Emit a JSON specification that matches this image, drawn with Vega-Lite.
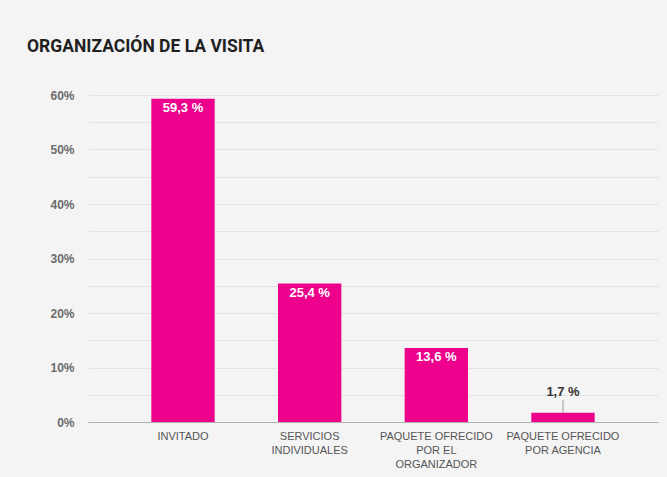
{
  "$schema": "https://vega.github.io/schema/vega-lite/v6.json",
  "width": 570,
  "height": 327,
  "autosize": {"type": "none"},
  "padding": {"left": 88, "top": 95, "right": 9, "bottom": 55},
  "background": "#f4f4f4",
  "config": {"view": {"stroke": null}},
  "title": {
    "text": "ORGANIZACIÓN DE LA VISITA",
    "anchor": "start",
    "frame": "group",
    "dx": -61,
    "offset": 34,
    "font": "Roboto",
    "fontSize": 17.5,
    "fontWeight": "bold",
    "color": "#1f1f1f"
  },
  "data": {
    "values": [
      {"categoria": "INVITADO", "porcentaje": 59.3},
      {"categoria": "SERVICIOS\nINDIVIDUALES", "porcentaje": 25.4},
      {"categoria": "PAQUETE OFRECIDO\nPOR EL\nORGANIZADOR", "porcentaje": 13.6},
      {"categoria": "PAQUETE OFRECIDO\nPOR AGENCIA", "porcentaje": 1.7}
    ]
  },
  "encoding": {
    "x": {
      "field": "categoria",
      "type": "nominal",
      "sort": null,
      "scale": {"paddingInner": 0.5, "paddingOuter": 0.5},
      "axis": {
        "title": null,
        "labelAngle": 0,
        "labelExpr": "split(datum.label, '\\n')",
        "labelFont": "Liberation Sans",
        "labelFontSize": 11,
        "labelColor": "#555555",
        "labelLineHeight": 14,
        "labelBaseline": "top",
        "ticks": false,
        "tickSize": 0,
        "labelPadding": 8,
        "domainColor": "#b0b0b0",
        "domainWidth": 1,
        "grid": false
      }
    },
    "y": {
      "field": "porcentaje",
      "type": "quantitative",
      "scale": {"domain": [0, 60], "nice": false},
      "axis": {
        "title": null,
        "values": [0, 5, 10, 15, 20, 25, 30, 35, 40, 45, 50, 55, 60],
        "labelExpr": "datum.value % 10 === 0 ? datum.value + '%' : ''",
        "ticks": false,
        "tickSize": 0,
        "domain": false,
        "labelPadding": 14,
        "labelFont": "Liberation Sans",
        "labelFontSize": 12,
        "labelFontWeight": "bold",
        "labelColor": "#6b6b6b",
        "gridColor": "#e2e2e2",
        "gridWidth": 1
      }
    }
  },
  "layer": [
    {"mark": {"type": "bar", "color": "#ec008c"}},
    {
      "transform": [
        {"filter": "datum.porcentaje >= 5"},
        {"calculate": "replace(format(datum.porcentaje, '.1f'), '.', ',') + ' %'", "as": "etiqueta"}
      ],
      "mark": {"type": "text", "color": "#ffffff", "fontWeight": "bold", "fontSize": 13, "baseline": "middle", "dy": 9, "font": "Liberation Sans"},
      "encoding": {"text": {"field": "etiqueta"}}
    },
    {
      "transform": [
        {"filter": "datum.porcentaje < 5"},
        {"calculate": "replace(format(datum.porcentaje, '.1f'), '.', ',') + ' %'", "as": "etiqueta"}
      ],
      "mark": {"type": "text", "color": "#333333", "fontWeight": "bold", "fontSize": 13, "baseline": "middle", "dy": -21, "font": "Liberation Sans"},
      "encoding": {"text": {"field": "etiqueta"}}
    },
    {
      "transform": [{"filter": "datum.porcentaje < 5"}],
      "mark": {"type": "rule", "color": "#9a9a9a", "strokeWidth": 1, "y2Offset": -13},
      "encoding": {"y2": {"field": "porcentaje"}}
    }
  ]
}
